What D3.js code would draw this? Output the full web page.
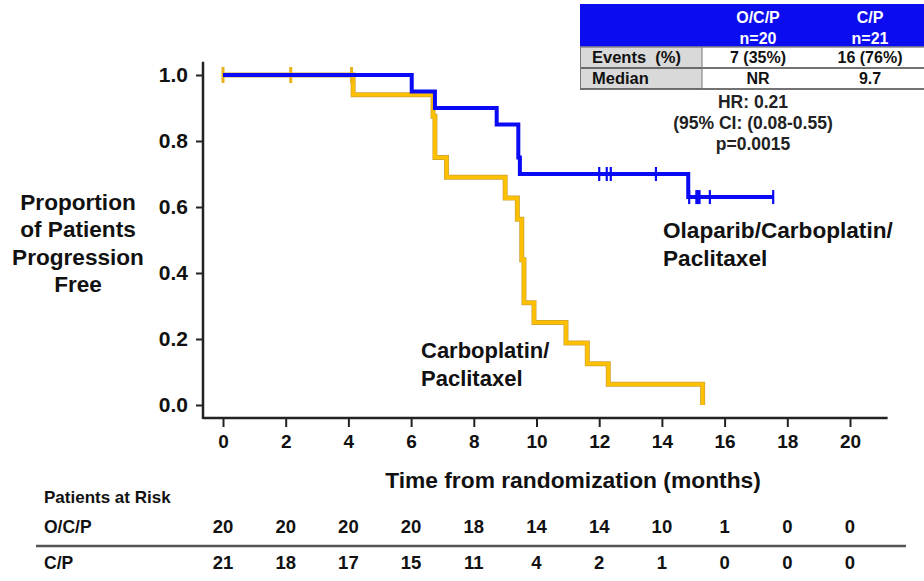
<!DOCTYPE html>
<html>
<head>
<meta charset="utf-8">
<script src="https://cdn.jsdelivr.net/npm/d3@7"></script>
<style>
  body { margin: 0; background: #fff; }
  svg { display: block; }
  text { font-family: "Liberation Sans", Arial, Helvetica, sans-serif; font-weight: bold; fill: #111; }
</style>
</head>
<body>
<svg id="chart" width="924" height="581"></svg>
<script>
// ---- data ----
const monthTicks = [0, 2, 4, 6, 8, 10, 12, 14, 16, 18, 20];
const yTicks = [0, 0.2, 0.4, 0.6, 0.8, 1.0];

// Olaparib/Carboplatin/Paclitaxel (O/C/P): step times (months) and survival after each step
const ocpTimes = [0, 6.02, 6.76, 8.73, 9.42, 9.47, 14.84];
const ocpSurv  = [1.0, 0.95, 0.90, 0.85, 0.75, 0.70, 0.63];
const ocpEnd = 17.55;
const ocpCensor = [12.0, 12.24, 12.37, 13.81, 14.87, 15.1, 15.15, 15.2, 15.53, 17.55];

// Carboplatin/Paclitaxel (C/P)
const cpTimes = [0, 4.15, 6.70, 6.76, 7.13, 9.0, 9.39, 9.53, 9.60, 9.92, 10.94, 11.62, 12.29, 15.3];
const cpSurv  = [1.0, 0.94, 0.875, 0.75, 0.69, 0.627, 0.563, 0.44, 0.31, 0.25, 0.188, 0.125, 0.063, 0.0];
const cpEnd = 15.3;
const cpCensor = [0, 2.16, 4.1];

// patients at risk at each month tick
const riskGroups = ["O/C/P", "C/P"];
const riskOCP = [20, 20, 20, 20, 18, 14, 14, 10, 1, 0, 0];
const riskCP  = [21, 18, 17, 15, 11, 4, 2, 1, 0, 0, 0];

// summary table
const tableCols = ["O/C/P", "C/P"];
const tableN = ["n=20", "n=21"];
const tableRows = ["Events\u00a0\u00a0(%)", "Median"];
const tableEvents = ["7 (35%)", "16 (76%)"];
const tableMedian = ["NR", "9.7"];
const statsLines = ["HR: 0.21", "(95% CI: (0.08-0.55)", "p=0.0015"];

// ---- layout ----
const svg = d3.select("#chart");
const x = d3.scaleLinear().domain([0, 20]).range([223, 850]);
const y = d3.scaleLinear().domain([0, 1]).range([405, 75]);
const xAxisY = 418, yAxisX = 203;
const xExtent = [-0.64, 21.2];   // months spanned by the x axis line
const yExtent = [1.04, -0.04];   // proportion spanned by the y axis line

const BLUE = "#0a0af5", GOLD = "#ffc000", AXIS = "#222";
const FONT = "'Liberation Sans', Arial, sans-serif";

// axis lines
svg.append("line").attr("x1", x(xExtent[0])).attr("x2", x(xExtent[1]))
  .attr("y1", xAxisY).attr("y2", xAxisY).attr("stroke", AXIS).attr("stroke-width", 2.5);
svg.append("line").attr("x1", yAxisX).attr("x2", yAxisX)
  .attr("y1", y(yExtent[0])).attr("y2", xAxisY + 1).attr("stroke", AXIS).attr("stroke-width", 2.5);

// x axis
const gx = svg.append("g").attr("transform", `translate(0,${xAxisY})`)
  .call(d3.axisBottom(x).tickValues(monthTicks).tickFormat(d3.format("d")).tickSize(9).tickSizeOuter(0).tickPadding(8));
gx.select(".domain").remove();
gx.selectAll(".tick line").attr("stroke", AXIS).attr("stroke-width", 2);
gx.selectAll(".tick text").attr("font-size", 19).attr("fill", "#111")
  .attr("font-family", FONT).attr("font-weight", "bold");

// y axis
const gy = svg.append("g").attr("transform", `translate(${yAxisX},0)`)
  .call(d3.axisLeft(y).tickValues(yTicks).tickFormat(d3.format(".1f")).tickSize(7).tickSizeOuter(0).tickPadding(8));
gy.select(".domain").remove();
gy.selectAll(".tick line").attr("stroke", AXIS).attr("stroke-width", 2);
gy.selectAll(".tick text").attr("font-size", 21).attr("fill", "#111")
  .attr("font-family", FONT).attr("font-weight", "bold");

// axis titles
svg.append("text").attr("x", 573).attr("y", 480).attr("dy", "0.35em")
  .attr("text-anchor", "middle").attr("font-size", 22.8).text("Time from randomization (months)");
const yTitle = ["Proportion", "of Patients", "Progression", "Free"];
svg.append("text").attr("text-anchor", "middle").attr("font-size", 22.6)
  .selectAll("tspan").data(yTitle).join("tspan")
  .attr("x", 78).attr("y", (d, i) => 202 + i * 27.5).attr("dy", "0.35em").text(d => d);

// step-curve helpers
function stepPoints(times, surv, end) {
  const pts = [];
  times.forEach((t, i) => {
    if (i > 0) pts.push([t, surv[i - 1]]);
    pts.push([t, surv[i]]);
  });
  pts.push([end, surv[surv.length - 1]]);
  return pts;
}
function survAt(times, surv, t) {
  let v = surv[0];
  times.forEach((tt, i) => { if (tt <= t) v = surv[i]; });
  return v;
}
const line = d3.line().x(d => x(d[0])).y(d => y(d[1]));

// C/P curve (drawn first)
const cpPts = stepPoints(cpTimes, cpSurv, cpEnd);
svg.append("path").attr("d", line(cpPts)).attr("fill", "none")
  .attr("stroke", "#c9a23a").attr("stroke-width", 5).attr("stroke-linejoin", "miter");
svg.append("path").attr("d", line(cpPts)).attr("fill", "none")
  .attr("stroke", GOLD).attr("stroke-width", 3.6).attr("stroke-linejoin", "miter");
svg.selectAll(".cp-censor").data(cpCensor).join("line").attr("class", "cp-censor")
  .attr("x1", d => x(d)).attr("x2", d => x(d))
  .attr("y1", d => y(survAt(cpTimes, cpSurv, d)) - 8)
  .attr("y2", d => y(survAt(cpTimes, cpSurv, d)) + 8)
  .attr("stroke", "#e8b21a").attr("stroke-width", 3);

// O/C/P curve
const ocpPts = stepPoints(ocpTimes, ocpSurv, ocpEnd);
svg.append("path").attr("d", line(ocpPts)).attr("fill", "none")
  .attr("stroke", BLUE).attr("stroke-width", 4).attr("stroke-linejoin", "miter");
svg.selectAll(".ocp-censor").data(ocpCensor).join("line").attr("class", "ocp-censor")
  .attr("x1", d => x(d)).attr("x2", d => x(d))
  .attr("y1", d => y(survAt(ocpTimes, ocpSurv, d)) - 7)
  .attr("y2", d => y(survAt(ocpTimes, ocpSurv, d)) + 7)
  .attr("stroke", BLUE).attr("stroke-width", 2.2);

// curve labels
svg.append("text").attr("font-size", 22.6)
  .selectAll("tspan").data(["Olaparib/Carboplatin/", "Paclitaxel"]).join("tspan")
  .attr("x", 663).attr("y", (d, i) => 230 + i * 28).attr("dy", "0.35em").text(d => d);
svg.append("text").attr("font-size", 22)
  .selectAll("tspan").data(["Carboplatin/", "Paclitaxel"]).join("tspan")
  .attr("x", 421).attr("y", (d, i) => 350 + i * 28).attr("dy", "0.35em").text(d => d);

// summary table (top right)
const tbl = svg.append("g");
const colX = [758, 870];
tbl.append("rect").attr("x", 580).attr("y", 4).attr("width", 344).attr("height", 43).attr("fill", "#0c0cf0");
tableCols.forEach((c, i) => {
  tbl.append("text").attr("x", colX[i]).attr("y", 17).attr("dy", "0.35em").attr("text-anchor", "middle")
    .attr("font-size", 16).style("fill", "#fff").text(c);
  tbl.append("text").attr("x", colX[i]).attr("y", 38).attr("dy", "0.35em").attr("text-anchor", "middle")
    .attr("font-size", 16).style("fill", "#fff").text(tableN[i]);
});
const rowY = [47, 68, 89];
tbl.append("rect").attr("x", 580).attr("y", rowY[0]).attr("width", 122).attr("height", rowY[2] - rowY[0]).attr("fill", "#d9d9d9");
rowY.forEach((yy, i) => {
  tbl.append("line").attr("x1", 580).attr("x2", 924).attr("y1", yy).attr("y2", yy)
    .attr("stroke", i === 0 ? "#888" : "#444").attr("stroke-width", 1.5);
});
tbl.append("line").attr("x1", 702).attr("x2", 702).attr("y1", rowY[0]).attr("y2", rowY[2]).attr("stroke", "#777").attr("stroke-width", 1);
tbl.append("line").attr("x1", 580.5).attr("x2", 580.5).attr("y1", rowY[0]).attr("y2", rowY[2]).attr("stroke", "#777").attr("stroke-width", 1);
const rowVals = [tableEvents, tableMedian];
tableRows.forEach((r, i) => {
  const cy = (rowY[i] + rowY[i + 1]) / 2;
  tbl.append("text").attr("x", 592).attr("y", cy).attr("dy", "0.35em").attr("font-size", 16.5).text(r);
  rowVals[i].forEach((v, j) => {
    tbl.append("text").attr("x", colX[j]).attr("y", cy).attr("dy", "0.35em").attr("text-anchor", "middle")
      .attr("font-size", 16).text(v);
  });
});
svg.append("g").selectAll("text").data(statsLines).join("text")
  .attr("x", 753).attr("y", (d, i) => 102 + i * 21).attr("dy", "0.35em").attr("text-anchor", "middle")
  .attr("font-size", 17.5).style("fill", "#222").text(d => d);

// patients at risk
svg.append("text").attr("x", 44).attr("y", 497).attr("dy", "0.35em").attr("font-size", 17).text("Patients at Risk");
const riskRowsY = [527, 563];
[riskOCP, riskCP].forEach((vals, r) => {
  svg.append("text").attr("x", 44).attr("y", riskRowsY[r]).attr("dy", "0.35em").attr("font-size", 17.5).text(riskGroups[r]);
  svg.append("g").selectAll("text").data(vals).join("text")
    .attr("x", (d, i) => x(monthTicks[i])).attr("y", riskRowsY[r]).attr("dy", "0.35em")
    .attr("text-anchor", "middle").attr("font-size", 18.5).text(d => d);
});
svg.append("line").attr("x1", 36).attr("x2", 906).attr("y1", 546).attr("y2", 546)
  .attr("stroke", "#555").attr("stroke-width", 2.5);
</script>
</body>
</html>
